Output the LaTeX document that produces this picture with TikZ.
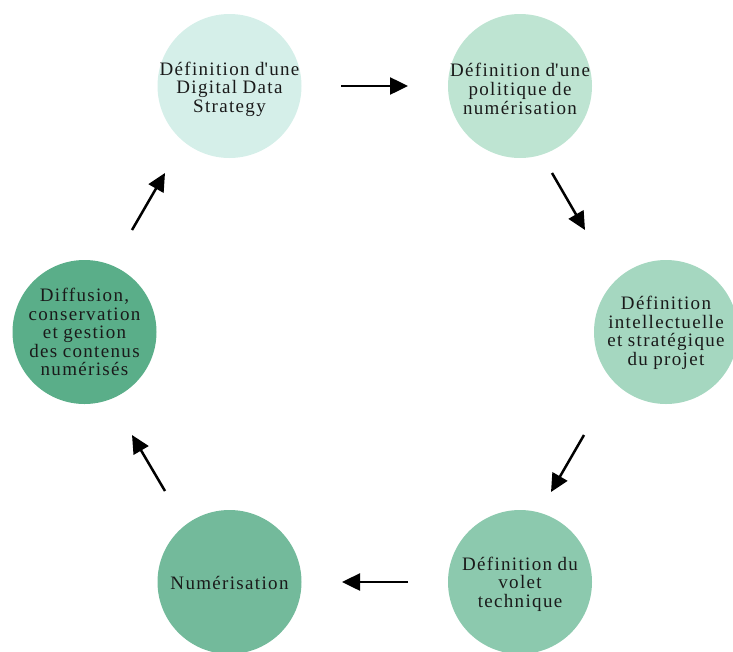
\documentclass[tikz,border=0pt]{standalone}
\usepackage{fontspec}
\setmainfont{Liberation Serif}[LetterSpace=7,WordSpace=0.9]
\usetikzlibrary{arrows.meta}
\definecolor{stepA}{HTML}{D5EFE9}
\definecolor{stepB}{HTML}{BEE4D2}
\definecolor{stepC}{HTML}{A5D7C0}
\definecolor{stepD}{HTML}{8CC9AE}
\definecolor{stepE}{HTML}{73BA9B}
\definecolor{stepF}{HTML}{5AAE89}
\definecolor{ink}{HTML}{1A1A1A}
% straight apostrophe, loaded without the TeX quote mapping
\font\aposfont="Liberation Serif" at 19pt
\newcommand{\apos}{{\aposfont\char39}\kern1.3pt\relax}
\tikzset{
  stage/.style={circle, minimum size=144pt, inner sep=0pt},
  stagetext/.style={align=center, text=ink, inner sep=0pt,
    font=\fontsize{19}{18.6}\selectfont},
  flow/.style={line width=2.5pt, -{Triangle[length=18pt,width=17pt]}}
}
\begin{document}
\begin{tikzpicture}[x=1pt,y=-1pt]
\useasboundingbox (0,0) rectangle (733,651);
\node[stage, fill=stepA, label={[stagetext,yshift=-3pt]center:Définition d\apos une\\Digital Data\\Strategy}] (s1) at (229.5,86) {};
\node[stage, fill=stepB, label={[stagetext,yshift=-3pt]center:Définition d\apos une\\politique de\\numérisation}] (s2) at (520,86) {};
\node[stage, fill=stepC, label={[stagetext,yshift=-1pt]center:Définition\\intellectuelle\\et stratégique\\du projet}] (s3) at (666,332) {};
\node[stage, fill=stepD, label={[stagetext,yshift=-2pt]center:Définition du\\volet\\technique}] (s4) at (520,582) {};
\node[stage, fill=stepE, label={[stagetext,yshift=-1pt]center:Numérisation}] (s5) at (229.5,582) {};
\node[stage, fill=stepF, label={[stagetext]center:Diffusion,\\conservation\\et gestion\\des contenus\\numérisés}] (s6) at (84.5,332) {};
% arrow ends between consecutive stages
\coordinate (a1t) at (341,86);  \coordinate (a1h) at (408,86);
\coordinate (a2t) at (552,173); \coordinate (a2h) at (585,230);
\coordinate (a3t) at (584,435); \coordinate (a3h) at (551,492);
\coordinate (a4t) at (408,582); \coordinate (a4h) at (342,582);
\coordinate (a5t) at (165,491); \coordinate (a5h) at (132,435);
\coordinate (a6t) at (132,230); \coordinate (a6h) at (165,173);
\foreach \i in {1,...,6} \draw[flow] (a\i t) -- (a\i h);
\end{tikzpicture}
\end{document}
